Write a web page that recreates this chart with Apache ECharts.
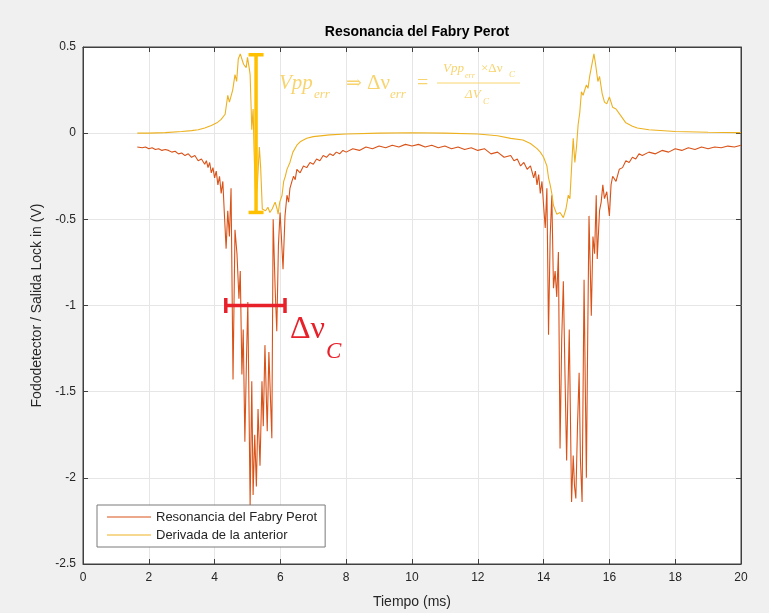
<!DOCTYPE html>
<html>
<head>
<meta charset="utf-8">
<script src="https://cdn.jsdelivr.net/npm/echarts@6/dist/echarts.min.js"></script>
<style>
html,body{margin:0;padding:0;background:#f0f0f0;}
#c{width:769px;height:613px;}
</style>
</head>
<body>
<div id="c"></div>
<script>
// ---- Data ----
const resX = [1.65,1.8,1.9,2.0,2.1,2.2,2.3,2.4,2.5,2.6,2.7,2.8,2.9,3.0,3.1,3.2,3.3,3.4,3.5,3.6,3.7,3.75,3.8,3.85,3.9,3.95,4.0,4.05,4.1,4.15,4.2,4.25,4.3,4.35,4.4,4.45,4.5,4.56,4.62,4.68,4.74,4.78,4.83,4.87,4.92,4.97,5.01,5.08,5.13,5.17,5.22,5.27,5.32,5.38,5.44,5.48,5.53,5.6,5.65,5.7,5.74,5.78,5.84,5.89,5.94,5.99,6.03,6.08,6.14,6.2,6.25,6.29,6.35,6.4,6.45,6.5,6.6,6.7,6.8,6.9,7.0,7.1,7.2,7.3,7.4,7.5,7.6,7.7,7.8,7.9,8.0,8.2,8.4,8.6,8.8,9.0,9.2,9.4,9.6,9.8,10.0,10.2,10.4,10.6,10.8,11.0,11.2,11.4,11.6,11.8,12.0,12.2,12.4,12.6,12.8,13.0,13.1,13.2,13.3,13.4,13.5,13.6,13.7,13.75,13.8,13.85,13.9,13.95,14.0,14.05,14.1,14.15,14.2,14.25,14.3,14.35,14.4,14.45,14.5,14.55,14.6,14.65,14.7,14.74,14.78,14.85,14.9,14.94,14.98,15.03,15.08,15.12,15.17,15.23,15.3,15.34,15.38,15.42,15.45,15.5,15.55,15.6,15.63,15.7,15.75,15.8,15.85,15.92,16.0,16.05,16.1,16.2,16.3,16.4,16.5,16.6,16.7,16.8,16.9,17.0,17.2,17.4,17.6,17.8,18.0,18.2,18.4,18.6,18.8,19.0,19.2,19.4,19.6,19.8,20.0];
const resY = [-0.08,-0.085,-0.08,-0.09,-0.085,-0.095,-0.09,-0.10,-0.095,-0.10,-0.11,-0.105,-0.12,-0.115,-0.13,-0.12,-0.14,-0.13,-0.16,-0.15,-0.18,-0.16,-0.20,-0.17,-0.23,-0.20,-0.26,-0.22,-0.30,-0.25,-0.35,-0.28,-0.48,-0.67,-0.45,-0.60,-0.32,-1.43,-0.56,-0.70,-0.96,-0.80,-1.40,-1.14,-1.79,-1.30,-0.98,-2.16,-1.44,-2.10,-1.75,-2.05,-1.60,-1.93,-1.44,-1.70,-1.23,-1.73,-1.27,-1.55,-1.77,-0.50,-0.90,-1.15,-0.65,-0.46,-0.60,-0.79,-0.48,-0.36,-0.40,-0.32,-0.28,-0.25,-0.27,-0.21,-0.23,-0.19,-0.20,-0.17,-0.18,-0.15,-0.16,-0.13,-0.14,-0.12,-0.13,-0.11,-0.12,-0.10,-0.11,-0.09,-0.10,-0.08,-0.09,-0.075,-0.085,-0.07,-0.08,-0.065,-0.075,-0.065,-0.08,-0.07,-0.085,-0.075,-0.09,-0.08,-0.095,-0.085,-0.10,-0.09,-0.12,-0.11,-0.14,-0.13,-0.16,-0.15,-0.19,-0.17,-0.21,-0.19,-0.26,-0.22,-0.30,-0.24,-0.35,-0.28,-0.42,-0.55,-0.32,-1.17,-0.60,-0.36,-0.90,-0.80,-0.95,-0.69,-1.83,-1.20,-0.86,-1.40,-1.90,-1.50,-1.14,-2.14,-1.87,-2.05,-2.12,-1.70,-1.39,-1.90,-2.14,-0.85,-2.00,-1.20,-0.48,-0.80,-1.06,-0.60,-0.70,-0.36,-0.73,-0.45,-0.40,-0.30,-0.38,-0.34,-0.48,-0.30,-0.25,-0.28,-0.21,-0.20,-0.16,-0.17,-0.14,-0.15,-0.12,-0.13,-0.11,-0.12,-0.10,-0.11,-0.09,-0.10,-0.085,-0.095,-0.08,-0.09,-0.08,-0.085,-0.075,-0.08,-0.07];

const derX = [1.65,2.0,2.5,3.0,3.3,3.5,3.7,3.9,4.07,4.2,4.32,4.4,4.45,4.5,4.55,4.62,4.67,4.72,4.78,4.83,4.88,4.92,4.96,5.0,5.05,5.08,5.13,5.17,5.2,5.25,5.3,5.36,5.4,5.45,5.55,5.62,5.68,5.75,5.84,5.9,5.93,5.98,6.05,6.1,6.15,6.2,6.29,6.38,6.5,6.6,6.8,7.0,7.5,8.0,9.0,10.0,11.0,12.0,12.6,13.0,13.37,13.6,13.8,13.9,14.0,14.1,14.15,14.2,14.25,14.3,14.4,14.5,14.6,14.68,14.75,14.8,14.85,14.9,14.95,15.0,15.05,15.1,15.15,15.2,15.3,15.35,15.4,15.45,15.53,15.58,15.65,15.7,15.78,15.85,15.92,16.0,16.1,16.2,16.35,16.5,16.7,16.85,17.2,18.0,19.0,20.0];
const derY = [0,0,0.003,0.01,0.015,0.02,0.03,0.045,0.06,0.08,0.11,0.22,0.18,0.17,0.25,0.34,0.30,0.43,0.46,0.45,0.40,0.41,0.38,0.44,0.38,0.34,0.02,0.14,-0.10,-0.40,-0.30,-0.08,-0.20,-0.44,-0.45,-0.43,-0.46,-0.44,-0.40,-0.44,-0.47,-0.40,-0.36,-0.28,-0.25,-0.21,-0.17,-0.11,-0.07,-0.05,-0.03,-0.02,-0.01,-0.005,0,0.002,0,-0.005,-0.015,-0.03,-0.04,-0.06,-0.09,-0.11,-0.14,-0.19,-0.26,-0.30,-0.35,-0.42,-0.47,-0.46,-0.49,-0.44,-0.36,-0.38,-0.20,-0.03,-0.17,-0.08,0.05,0.12,0.24,0.22,0.28,0.26,0.33,0.38,0.46,0.40,0.30,0.33,0.23,0.18,0.17,0.21,0.15,0.14,0.10,0.06,0.04,0.03,0.02,0.01,0.005,0.003];

// Annotation bars (data coords): [x1, y1, x2, y2]
const vppBar = [5.26, 0.455, 5.26, -0.46];
const widthBar = [4.34, -1.0, 6.14, -1.0];

const xTicks = {min: 0, max: 20, interval: 2};
const yTicks = {min: -2.5, max: 0.5, interval: 0.5};
const seriesNames = ['Resonancia del Fabry Perot', 'Derivada de la anterior'];
const seriesColors = ['#d95319', '#edb120'];

// ---- Chart ----
const zip = (a, b) => a.map((v, i) => [v, b[i]]);
const chart = echarts.init(document.getElementById('c'), null, {renderer: 'canvas'});
const axisColor = '#404040';
const txtColor = '#262626';
const fml = '#f8d46e';
const red = '#e8202a';
const gold = '#ffc000';
const sans = 'Liberation Sans, Arial, sans-serif';

function barRender(color) {
  return function (params, api) {
    const p1 = api.coord([api.value(0), api.value(1)]);
    const p2 = api.coord([api.value(2), api.value(3)]);
    const h = 7.5;
    const vertical = Math.abs(p1[0] - p2[0]) < 0.5;
    const style = {stroke: color, lineWidth: 3.5};
    const caps = vertical
      ? [[p1[0]-h,p1[1],p1[0]+h,p1[1]],[p2[0]-h,p2[1],p2[0]+h,p2[1]]]
      : [[p1[0],p1[1]-h,p1[0],p1[1]+h],[p2[0],p2[1]-h,p2[0],p2[1]+h]];
    return {
      type: 'group',
      children: [
        {type: 'line', shape: {x1: p1[0], y1: p1[1], x2: p2[0], y2: p2[1]}, style},
        {type: 'line', shape: {x1: caps[0][0], y1: caps[0][1], x2: caps[0][2], y2: caps[0][3]}, style},
        {type: 'line', shape: {x1: caps[1][0], y1: caps[1][1], x2: caps[1][2], y2: caps[1][3]}, style}
      ]
    };
  };
}

function t(text, x, y, size, color, italic) {
  return {
    type: 'text', x: x, y: y, z: 100,
    style: {
      text: text, fill: color,
      font: (italic ? 'italic ' : '') + size + 'px "Liberation Serif", "DejaVu Serif", serif',
      textAlign: 'left', textVerticalAlign: 'middle', align: 'left', verticalAlign: 'middle'
    }
  };
}

const option = {
  animation: false,
  backgroundColor: '#f0f0f0',
  title: {
    text: 'Resonancia del Fabry Perot',
    left: 412, top: 20, textAlign: 'center',
    textStyle: {fontFamily: sans, fontSize: 14, fontWeight: 'bold', color: '#000'}
  },
  grid: {left: 83, right: 28, top: 47, bottom: 49, show: true, backgroundColor: '#fff',
         borderColor: axisColor, borderWidth: 1, containLabel: false, outerBoundsMode: 'none'},
  legend: {
    data: seriesNames.map((n, i) => ({name: n, icon: 'rect', itemStyle: {color: seriesColors[i]}})),
    orient: 'vertical', left: 97, top: 505,
    padding: [5, 8, 5, 10], itemGap: 4, itemWidth: 44, itemHeight: 1.2,
    backgroundColor: '#fff', borderColor: '#7a7a7a', borderWidth: 1,
    textStyle: {fontFamily: sans, fontSize: 13, color: txtColor, lineHeight: 14}
  },
  xAxis: [{
    type: 'value', min: xTicks.min, max: xTicks.max, interval: xTicks.interval,
    name: 'Tiempo (ms)', nameLocation: 'middle', nameGap: 31,
    nameTextStyle: {fontFamily: sans, fontSize: 14, color: txtColor},
    axisLine: {show: true, onZero: false, lineStyle: {color: axisColor}},
    axisTick: {show: true, inside: true, length: 5, lineStyle: {color: axisColor}},
    axisLabel: {color: txtColor, fontSize: 12, margin: 8, fontFamily: sans},
    splitLine: {show: true, lineStyle: {color: '#e6e6e6'}}
  }, {
    type: 'value', position: 'top', min: xTicks.min, max: xTicks.max, interval: xTicks.interval,
    axisLine: {show: true, onZero: false, lineStyle: {color: axisColor}},
    axisTick: {show: true, inside: true, length: 5, lineStyle: {color: axisColor}},
    axisLabel: {show: false}, splitLine: {show: false}
  }],
  yAxis: [{
    type: 'value', min: yTicks.min, max: yTicks.max, interval: yTicks.interval,
    name: 'Fododetector / Salida Lock in (V)', nameLocation: 'middle', nameGap: 39, nameRotate: 90,
    nameTextStyle: {fontFamily: sans, fontSize: 14, color: txtColor},
    axisLine: {show: true, onZero: false, lineStyle: {color: axisColor}},
    axisTick: {show: true, inside: true, length: 5, lineStyle: {color: axisColor}},
    axisLabel: {color: txtColor, fontSize: 12, margin: 7, fontFamily: sans},
    splitLine: {show: true, lineStyle: {color: '#e6e6e6'}}
  }, {
    type: 'value', position: 'right', min: yTicks.min, max: yTicks.max, interval: yTicks.interval,
    axisLine: {show: true, onZero: false, lineStyle: {color: axisColor}},
    axisTick: {show: true, inside: true, length: 5, lineStyle: {color: axisColor}},
    axisLabel: {show: false}, splitLine: {show: false}
  }],
  series: [
    {name: seriesNames[0], type: 'line', data: zip(resX, resY), symbol: 'none', color: seriesColors[0],
     lineStyle: {width: 1.1, color: seriesColors[0]}, z: 3},
    {name: seriesNames[1], type: 'line', data: zip(derX, derY), symbol: 'none', color: seriesColors[1],
     lineStyle: {width: 1.1, color: seriesColors[1]}, z: 4},
    {type: 'custom', data: [vppBar], renderItem: barRender(gold), encode: {x: [0, 2], y: [1, 3]}, z: 10, silent: true},
    {type: 'custom', data: [widthBar], renderItem: barRender(red), encode: {x: [0, 2], y: [1, 3]}, z: 10, silent: true}
  ],
  graphic: [
    t('Vpp', 279, 83, 21, fml, true),
    t('err', 314, 95, 13, fml, true),
    t('\u21D2', 346, 84, 19, fml, false),
    t('\u0394\u03BD', 367, 83, 21, fml, false),
    t('err', 390, 95, 13, fml, true),
    t('=', 417, 84, 20, fml, false),
    t('Vpp', 443, 69, 13, fml, true),
    t('err', 465, 76, 8, fml, true),
    t('\u00D7\u0394\u03BD', 481, 69, 13, fml, false),
    t('C', 509, 75, 9, fml, true),
    {type: 'line', z: 100, shape: {x1: 437, y1: 83, x2: 520, y2: 83}, style: {stroke: fml, lineWidth: 1}},
    t('\u0394V', 465, 95, 13, fml, true),
    t('C', 483, 102, 9, fml, true),
    t('\u0394\u03BD', 290, 330, 32, red, false),
    t('C', 326, 352, 23, red, true)
  ]
};
chart.setOption(option);
</script>
</body>
</html>
